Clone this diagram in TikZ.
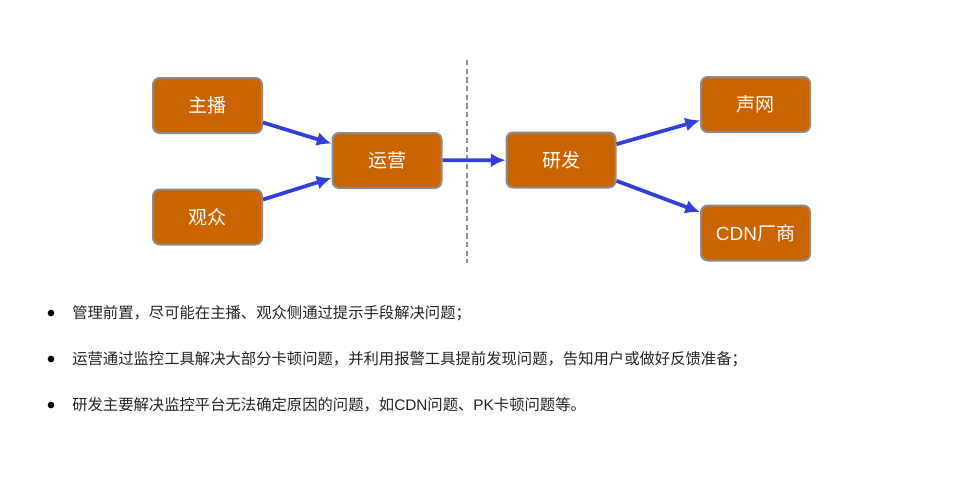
\documentclass[tikz,border=0pt]{standalone}
\usepackage{fontspec}
\setmainfont{Noto Sans CJK SC}
\newfontfamily\latn{Liberation Sans}
\usepackage{tikz}
\usetikzlibrary{positioning}
\usetikzlibrary{arrows.meta}
\definecolor{boxfill}{HTML}{C96400}
\definecolor{boxline}{HTML}{8C8C8C}
\definecolor{flowblue}{HTML}{3040DC}
\definecolor{bodytext}{HTML}{222222}
\tikzset{box/.style = {draw=boxline, fill=boxfill, line width=1.5pt, rounded corners=5pt,
                       minimum width=81.75pt, minimum height=41.25pt, inner sep=0,
                       text=white, font=\fontsize{14.25}{17}\selectfont}}
\tikzset{flow/.style = {-{Latex[length=11pt,width=10.5pt]}, draw=flowblue, line width=2.8pt}}
\tikzset{dot/.style = {fill=black, circle, inner sep=0, minimum size=5pt}}
\tikzset{line/.style = {anchor=west, text=bodytext, inner sep=0, font=\fontsize{11.5}{14}\selectfont}}

\begin{document}
\begin{tikzpicture}[x=0.75pt, y=-0.75pt]
      \useasboundingbox (0,0) rectangle (973,480);

      \node[box] (zhubo) at (207.5,105.5) {主播};
      \node[box] (guanzhong) at (207.5,217) {观众};
      \node[box] (yunying) at (387,160.5) {运营};
      \node[box] (yanfa) at (561,160) {研发};
      \node[box] (shengwang) at (755.5,104.5) {声网};
      \node[box] (cdn) at (755.5,233) {{\latn CDN}厂商};

      \coordinate (top) at (467,60);
      \coordinate (bottom) at (467,263);
      \draw[boxline, line width=1pt, dash pattern=on 4pt off 2.5pt] (top) -- (bottom);

      \draw[flow] (zhubo) -- (yunying);
      \draw[flow] (guanzhong) -- (yunying);
      \draw[flow] (yunying) -- (yanfa);
      \draw[flow] (yanfa) -- (shengwang);
      \draw[flow] (yanfa) -- (cdn);

      \node[dot] (b1) at (51,313) {};
      \node[dot] (b2) at (51,359) {};
      \node[dot] (b3) at (51,405) {};
      \node[line] (t1) at (72,313) {管理前置，尽可能在主播、观众侧通过提示手段解决问题；};
      \node[line] (t2) at (72,359) {运营通过监控工具解决大部分卡顿问题，并利用报警工具提前发现问题，告知用户或做好反馈准备；};
      \node[line] (t3) at (72,405) {研发主要解决监控平台无法确定原因的问题，如{\latn CDN}问题、{\latn PK}卡顿问题等。};
    \end{tikzpicture}
\end{document}
